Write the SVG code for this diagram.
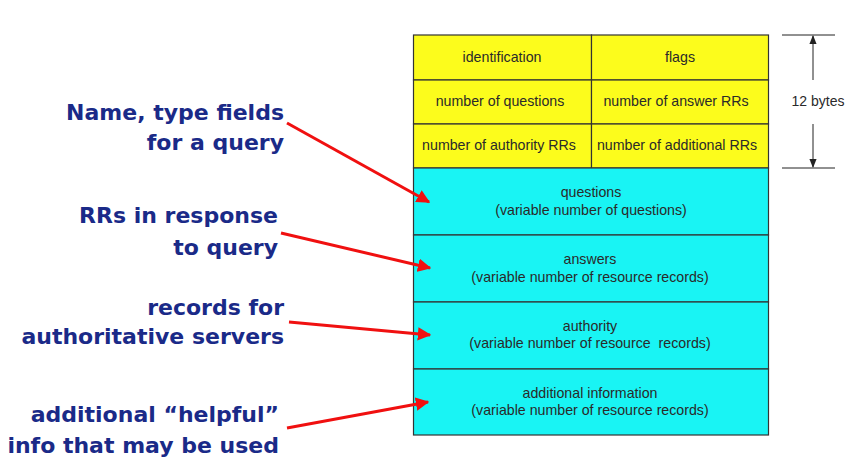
<svg xmlns="http://www.w3.org/2000/svg" width="855" height="472" viewBox="0 0 855 472">
<style>
.y{fill:#fcfc1c;stroke:#333;stroke-width:1.2}
.c{fill:#19f4f4;stroke:#333;stroke-width:1.2}
.t{font-family:"Liberation Sans",Arial,sans-serif;font-size:14.2px;fill:#2a2a2a;text-anchor:middle}
.lab{font-family:"DejaVu Sans","Noto Sans",sans-serif;font-weight:bold;font-size:22px;fill:#1a2a88;text-anchor:end}
.arr{stroke:#f01010;stroke-width:3;fill:none;marker-end:url(#ah)}
.dim{stroke:#222;stroke-width:1;fill:none}
</style>
<defs>
<marker id="ah" viewBox="0 0 10 10" refX="9" refY="5" markerWidth="4.5" markerHeight="4.5" orient="auto" markerUnits="strokeWidth">
<path d="M0,0 L10,5 L0,10 z" fill="#f01010"/>
</marker>
<marker id="dh" viewBox="0 0 10 10" refX="9" refY="5" markerWidth="9" markerHeight="9" orient="auto" markerUnits="userSpaceOnUse">
<path d="M0,1 L10,5 L0,9 z" fill="#222"/>
</marker>
</defs>
<rect width="855" height="472" fill="#fff"/>
<g id="identification"><rect class="y" x="413.5" y="35" width="178" height="45"/><text class="t" x="502" y="62">identification</text></g>
<g id="flags"><rect class="y" x="591.5" y="35" width="177" height="45"/><text class="t" x="680" y="62">flags</text></g>
<g id="num-questions"><rect class="y" x="413.5" y="80" width="178" height="44"/><text class="t" x="500" y="106">number of questions</text></g>
<g id="num-answers"><rect class="y" x="591.5" y="80" width="177" height="44"/><text class="t" x="676" y="106">number of answer RRs</text></g>
<g id="num-authority"><rect class="y" x="413.5" y="124" width="178" height="44"/><text class="t" x="499" y="150">number of authority RRs</text></g>
<g id="num-additional"><rect class="y" x="591.5" y="124" width="177" height="44"/><text class="t" x="677" y="150">number of additional RRs</text></g>
<g id="questions"><rect class="c" x="413.5" y="168" width="355" height="67"/><text class="t" x="591" y="197">questions</text><text class="t" x="591" y="215">(variable number of questions)</text></g>
<g id="answers"><rect class="c" x="413.5" y="235" width="355" height="67"/><text class="t" x="590" y="264">answers</text><text class="t" x="590" y="282">(variable number of resource records)</text></g>
<g id="authority"><rect class="c" x="413.5" y="302" width="355" height="67"/><text class="t" x="590" y="331">authority</text><text class="t" x="590" y="348" xml:space="preserve">(variable number of resource  records)</text></g>
<g id="additional"><rect class="c" x="413.5" y="369" width="355" height="66"/><text class="t" x="590" y="398">additional information</text><text class="t" x="590" y="415">(variable number of resource records)</text></g>
<g id="bytes">
<line class="dim" x1="782" y1="35" x2="835" y2="35"/>
<line class="dim" x1="782" y1="168" x2="835" y2="168"/>
<line class="dim" x1="813" y1="80" x2="813" y2="36" marker-end="url(#dh)"/>
<line class="dim" x1="813" y1="124" x2="813" y2="167" marker-end="url(#dh)"/>
<text x="818" y="106" font-family="Liberation Sans,Arial,sans-serif" font-size="14" fill="#2a2a2a" text-anchor="middle">12 bytes</text>
</g>
<g id="label-query"><text class="lab" x="284" y="120">Name, type fields</text><text class="lab" x="284" y="150">for a query</text></g>
<g id="label-rrs"><text class="lab" x="278" y="223">RRs in response</text><text class="lab" x="278" y="255">to query</text></g>
<g id="label-records"><text class="lab" x="284" y="315">records for</text><text class="lab" x="284" y="344">authoritative servers</text></g>
<g id="label-additional"><text class="lab" x="279" y="422">additional “helpful”</text><text class="lab" x="279" y="453">info that may be used</text></g>
<g id="connectors">
<line class="arr" x1="287" y1="123" x2="429" y2="202"/>
<line class="arr" x1="281" y1="233" x2="430" y2="268"/>
<line class="arr" x1="289" y1="322" x2="430" y2="335"/>
<line class="arr" x1="287" y1="428" x2="428" y2="402"/>
</g>
</svg>
